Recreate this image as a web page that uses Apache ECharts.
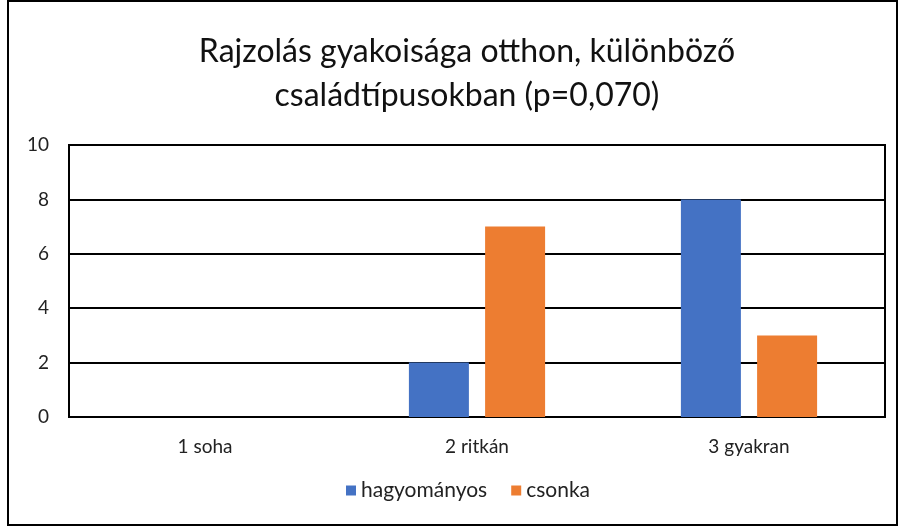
<!DOCTYPE html>
<html>
<head>
<meta charset="utf-8">
<script src="https://cdn.jsdelivr.net/npm/echarts@6/dist/echarts.min.js"></script>
<style>
html, body { margin: 0; padding: 0; background: #fff; }
#chart { width: 899px; height: 526px; }
</style>
</head>
<body>
<div id="chart"></div>
<script>
const categories = ['1 soha', '2 ritkán', '3 gyakran'];
const hagyomanyos = [0, 2, 8];
const csonka = [0, 7, 3];
const yTicks = [0, 2, 4, 6, 8, 10];

const font = 'Lato, "Open Sans", sans-serif';
const chart = echarts.init(document.getElementById('chart'));

chart.setOption({
    backgroundColor: '#fff',
    animation: false,
    title: {
        text: 'Rajzolás gyakoisága otthon, különböző\ncsaládtípusokban (p=0,070)',
        left: 462,
        textAlign: 'center',
        top: 25,
        textStyle: {
            fontFamily: font,
            fontSize: 32,
            fontWeight: 'normal',
            lineHeight: 44,
            color: '#111'
        }
    },
    legend: {
        bottom: 20,
        left: 341,
        itemWidth: 10,
        itemHeight: 10,
        itemGap: 24,
        icon: 'rect',
        textStyle: { fontFamily: font, fontSize: 21, color: '#222' },
        data: ['hagyományos', 'csonka']
    },
    grid: {
        left: 69,
        right: 14,
        top: 145,
        bottom: 109,
        show: true,
        borderColor: '#000',
        borderWidth: 2
    },
    xAxis: {
        type: 'category',
        data: categories,
        axisLine: { lineStyle: { color: '#000', width: 2 } },
        axisTick: { show: false },
        axisLabel: { fontFamily: font, fontSize: 19, color: '#222', margin: 20 }
    },
    yAxis: {
        type: 'value',
        min: yTicks[0],
        max: yTicks[yTicks.length - 1],
        interval: 2,
        axisLine: { show: true, lineStyle: { color: '#000', width: 2 } },
        axisLabel: { fontFamily: font, fontSize: 19, color: '#222', margin: 20 },
        splitLine: { lineStyle: { color: '#000', width: 2 } }
    },
    series: [
        {
            name: 'hagyományos',
            type: 'bar',
            data: hagyomanyos,
            barWidth: 60,
            barGap: '27%',
            itemStyle: { color: '#4472C4' }
        },
        {
            name: 'csonka',
            type: 'bar',
            data: csonka,
            barWidth: 60,
            itemStyle: { color: '#ED7D31' }
        }
    ],
    graphic: [{
        type: 'rect',
        shape: { x: 8, y: 1, width: 889, height: 524 },
        style: { fill: 'none', stroke: '#000', lineWidth: 2 },
        silent: true
    }]
});
</script>
</body>
</html>
